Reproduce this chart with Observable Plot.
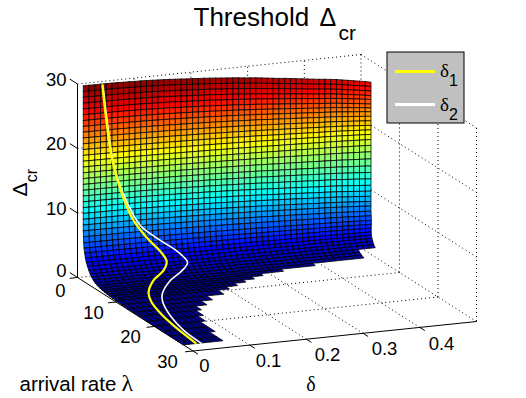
<!DOCTYPE html>
<html>
<head>
<meta charset="utf-8">
<script src="https://cdn.jsdelivr.net/npm/d3@7"></script>
<script src="https://cdn.jsdelivr.net/npm/@observablehq/plot@0.6"></script>
<style>html,body{margin:0;padding:0;background:#fff}svg{display:block}</style>
</head>
<body>
<div id="chart"></div>
<script>
// Values. The surface grid is too fine to read cell by cell, so each
// mesh row has a read-off arrival rate, height and edge drop, and one read-off profile gives how
// that drop builds along delta. Cell heights are level - drop * profile.
const lambdaTicks = [0, 10, 20, 30];
const deltaTicks = [0, 0.1, 0.2, 0.3, 0.4];
const deltaTickLabels = ["0", "0.1", "0.2", "0.3", "0.4"];
const zTicks = [0, 10, 20, 30];

const rowLambda = [1.5,1.5,1.5,1.5,1.5,1.5,1.5,1.5,1.5,1.5,1.5,1.5,1.5,1.5,1.5,1.5,1.5,1.5,1.5,1.5,1.5,1.5,1.5,1.5,1.5,1.5,1.55,1.6,
  1.7,1.85,2.05,2.3,2.6,2.95,3.3,3.7,
  4.1,4.6,5.2,5.8,6.4,7,7.7,8.4,9.2,10,11.5,13,14.5,16,18,20,22,24,26,27.5];
const rowLevel = [30.3,29.4,28.5,27.6,26.7,25.8,24.9,24,23.1,22.2,21.3,20.4,19.5,18.6,17.7,16.8,15.9,15,14.1,13.2,12.3,11.4,10.5,9.6,8.7,7.8,6.9,6,
  5.2,4.5,3.8,3.2,2.7,2.2,1.8,1.45,
  1.15,.9,.7,.57,.47,.4,.33,.28,.23,.19,.14,.1,.08,.06,.04,.03,.02,.01,0,0];
const wallDrop = [3.6,3.4,3.2,3,2.7,2.5,2.2,1.9,1.7,1.5,1.3,1.1,.9,.8,.8,.9,1.1,1.3,1.4,1.5,1.6,1.6,1.5,1.4,1.2,1.1,.9,.7,.5,.4,.3,.2,.1,0,0,0];
const wallSkew = [2.2,2.2,2.2,2.2,2.2,2.2,2.2,2.2,2.2,2.2,2.2,2.2,2.2,2.2,2.2,2.2,2.2,2.2,2.2,2.2,2.2,2.2,2.2,2.2,2.2,2.2,2.2,2.2,2,1.6,1.2,.8,.5,.2,0,0];
const dropProfile = [0,0,0,0,0,0,0,.01,.01,.02,.02,.03,.04,.05,.06,.07,.09,.1,.12,.13,.15,.16,.18,.2,.22,.24,.26,.28,.31,.33,.35,.38,.41,.44,.47,.49,.52,.55,.58,.61,.64,.67,.69,.72,.75,.79,.83,.87,.91,.95,1];
const floorEnd = [.47,.47,.47,.38,.32,.28,.26,.24,.22,.2,.18,.15,.13,.11,.1,.09,.08,.08,.07,.07];
const wallEnd = 0.5;

const delta1Lambda = [1.6,1.7,1.8,1.9,2,2.2,2.7,3.5,5,8,11,16,20.5,27.3];
const delta1Delta = [.033,.05,.069,.086,.11,.131,.139,.128,.1,.071,.055,.039,.031,.023];
const delta1Z = [30.1,18.3,12.3,8.8,5.8,3.7,2.26,1.26,.53,.05,0,.05,0,0];
const delta2Lambda = [1.6,1.7,1.75,1.8,1.9,2,2.2,2.8,3.8,5.4,8.8,11.5,17,22.5,27.5];
const delta2Delta = [.034,.051,.06,.078,.098,.127,.161,.175,.159,.127,.09,.072,.049,.035,.031];
const delta2Z = [30.1,18.3,15.2,11.1,7.9,5.66,3.41,1.8,1.09,.42,.03,0,0,0,0];

const jetStops = [0, .11, .36, .625, .86, 1];
const jetColors = ["#000084", "#0000ff", "#00ffff", "#ffff00", "#ff0000", "#800000"];
const zMax = 30.4;

const font = "Liberation Sans";
const view = {x0: 77, y0: 277, xL: 3.85, yL: 2.45, xD: 567, yD: -59, yZ: -6.45};
const P = (l, d, z) => [view.x0 + view.xL * l + view.xD * d, view.y0 + view.yL * l + view.yD * d + view.yZ * z];

// surface cells
const corner = (i, j) => {
  const w = i < wallDrop.length;
  const drop = w ? wallDrop[i] : 0, skew = w ? wallSkew[i] : 0, d = j / 100;
  const z = Math.max(0, rowLevel[i] - drop * dropProfile[j]);
  return {l: rowLambda[i] + skew * d, d, z};
};
const cells = [];
let id = 0;
const wallBands = rowLambda.length - 1 - floorEnd.length;
for (let i = 0; i < rowLambda.length - 1; i++) {
  const end = i < wallBands ? wallEnd : floorEnd[i - wallBands];
  const last = Math.round(end * 100);
  for (let j = 0; j < last; j++) {
    const q = [corner(i, j), corner(i, j + 1), corner(i + 1, j + 1), corner(i + 1, j), corner(i, j)];
    const v = d3.mean(q.slice(0, 4), c => c.z);
    for (const c of q) {
      const [x, y] = P(c.l, c.d, c.z);
      cells.push({x, y, id, v});
    }
    id++;
  }
}

// box, grid
const seg = (a, b) => { const p = P(...a), q = P(...b); return {x1: p[0], y1: p[1], x2: q[0], y2: q[1]}; };
const L = 30, D = 0.5, Z = 30;
const dotted = [
  seg([0,0,Z],[0,D,Z]), seg([0,D,Z],[L,D,Z]), seg([L,D,Z],[L,D,0]), seg([0,D,Z],[0,D,0]),
  seg([0,0,0],[0,D,0]), seg([0,D,0],[L,D,0]),
  ...lambdaTicks.slice(1, 3).flatMap(l => [seg([l,0,0],[l,D,0]), seg([l,D,0],[l,D,Z])]),
  ...deltaTicks.slice(1).flatMap(d => [seg([0,d,0],[L,d,0]), seg([0,d,0],[0,d,Z])]),
  ...zTicks.slice(1, 3).flatMap(z => [seg([0,D,z],[L,D,z]), seg([0,0,z],[0,D,z])])
];
const solid = [seg([0,0,0],[0,0,Z]), seg([0,0,0],[L,0,0]), seg([L,0,0],[L,D,0])];
const tickSegs = [
  ...zTicks.map(z => seg([0,0,z],[-2,0,z])),
  ...lambdaTicks.map(l => seg([l,0,0],[l,-0.014,0])),
  ...deltaTicks.map(d => seg([L,d,0],[L+1.3,d,0]))
];

const linePts = (ls, ds, zs) => ls.map((l, i) => { const [x, y] = P(l, ds[i], zs[i]); return {x, y}; });

const zLabelPos = [[66,271],[66,209],[66,144],[66,80]];
const lLabelPos = [[60,291],[93,313],[130,337],[167,362]];
const dLabelPos = [[204,366],[268,361],[327,355],[384,349],[441,344]];
const T = (txt, x, y, o = {}) => Plot.text([txt], {x: () => x, y: () => y, text: d => d, fontSize: 18.5, fill: "#000", lineAnchor: "middle", ...o});

const chart = Plot.plot({
  width: 526, height: 398, margin: 0,
  style: {fontFamily: font, background: "#fff", overflow: "visible"},
  x: {domain: [0, 526], range: [0, 526], axis: null},
  y: {domain: [0, 398], range: [0, 398], axis: null},
  color: {type: "linear", domain: jetStops.map(s => s * zMax), range: jetColors, clamp: true},
  marks: [
    Plot.link(dotted, {x1: "x1", y1: "y1", x2: "x2", y2: "y2", stroke: "#000", strokeWidth: 1, strokeDasharray: "1,3"}),
    Plot.link(solid, {x1: "x1", y1: "y1", x2: "x2", y2: "y2", stroke: "#000", strokeWidth: 1}),
    Plot.link(tickSegs, {x1: "x1", y1: "y1", x2: "x2", y2: "y2", stroke: "#000", strokeWidth: 1}),
    Plot.line(cells, {x: "x", y: "y", z: "id", fill: "v", stroke: "#000", strokeWidth: 0.75, curve: "linear"}),
    Plot.line(linePts(delta2Lambda, delta2Delta, delta2Z), {x: "x", y: "y", stroke: "#fff", strokeWidth: 1.6, curve: "catmull-rom"}),
    Plot.line(linePts(delta1Lambda, delta1Delta, delta1Z), {x: "x", y: "y", stroke: "#ffff00", strokeWidth: 2.2, curve: "catmull-rom"}),

    // tick labels
    ...zTicks.map((z, i) => T(String(z), zLabelPos[i][0], zLabelPos[i][1], {textAnchor: "end"})),
    ...lambdaTicks.map((l, i) => T(String(l), lLabelPos[i][0], lLabelPos[i][1])),
    ...deltaTickLabels.map((s, i) => T(s, dLabelPos[i][0], dLabelPos[i][1])),

    // axis labels
    T("arrival rate", 19, 384, {textAnchor: "start", fontSize: 20.5}),
    T("λ", 121, 383, {textAnchor: "start", fontSize: 24, fontFamily: "Liberation Serif"}),
    T("δ", 310.5, 384, {fontSize: 20, fontFamily: "Liberation Serif"}),
    T("Δ", 20, 189, {rotate: -90, fontSize: 21}),
    T("cr", 31, 175, {rotate: -90, fontSize: 16}),

    // title
    T("Threshold", 193, 17, {textAnchor: "start", fontSize: 26}),
    T("Δ", 319, 17, {textAnchor: "start", fontSize: 25}),
    T("cr", 338, 33, {textAnchor: "start", fontSize: 21}),

    // legend
    Plot.rect([0], {x1: () => 387, x2: () => 464, y1: () => 52, y2: () => 123, fill: "#c0c0c0", stroke: "#000", strokeWidth: 1}),
    Plot.ruleY([0], {x1: () => 395, x2: () => 435, y: () => 71, stroke: "#ffff00", strokeWidth: 3}),
    Plot.ruleY([0], {x1: () => 395, x2: () => 435, y: () => 104, stroke: "#fff", strokeWidth: 3}),
    T("δ", 444, 70, {fontSize: 19, fontFamily: "Liberation Serif"}),
    T("1", 453, 80, {fontSize: 16}),
    T("δ", 444, 104, {fontSize: 19, fontFamily: "Liberation Serif"}),
    T("2", 453, 114, {fontSize: 16})
  ]
});
document.getElementById("chart").append(chart);
</script>
</body>
</html>
